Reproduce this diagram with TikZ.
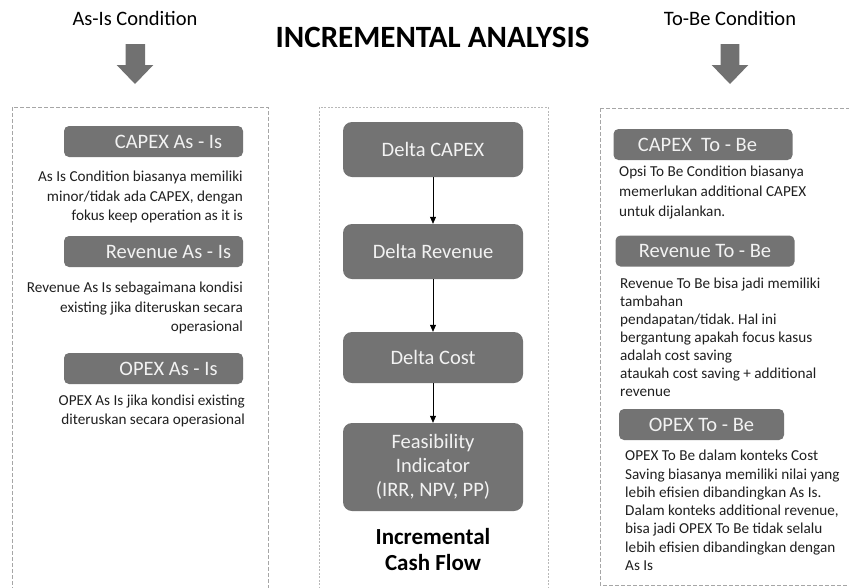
\documentclass[tikz,border=0pt]{standalone}
\usepackage{fontspec}
\setmainfont{Carlito}
\frenchspacing
\usetikzlibrary{arrows.meta}
\definecolor{boxgray}{HTML}{737373}
\definecolor{boxtext}{HTML}{F2F2F2}
\definecolor{dashgray}{HTML}{A6A6A6}
\definecolor{arrowgray}{HTML}{717171}
\definecolor{bodytext}{HTML}{1F1F1F}
\tikzset{
  hdr/.style={fill=boxgray, rounded corners=5pt, text=boxtext, font=\fontsize{20.5}{23}\selectfont,
    minimum width=179pt, minimum height=31pt, inner sep=0pt},
  flowbox/.style={fill=boxgray, rounded corners=9pt, text=boxtext, font=\fontsize{20.5}{24}\selectfont,
    minimum width=180pt, inner sep=0pt, align=center},
  desc/.style={inner sep=0pt, text=bodytext},
  frame/.style={draw=dashgray, line width=0.9pt, dash pattern=on 4pt off 2pt},
  framec/.style={draw=dashgray!80, line width=0.8pt, dash pattern=on 2pt off 1.5pt},
  flowarrow/.style={-{Triangle[length=7pt,width=6pt]}, line width=0.6pt, draw=black},
  bigarrow/.style={fill=arrowgray, draw=none},
}
\begin{document}
\begin{tikzpicture}[x=1pt,y=-1pt]
\useasboundingbox (0,0) rectangle (849,587);

% titles
\node[inner sep=0pt, font=\fontsize{20.5}{23}\selectfont] (asis) at (135,18) {As-Is Condition};
\node[inner sep=0pt, font=\fontsize{20.5}{23}\selectfont] (tobe) at (730,18) {To-Be Condition};
\node[inner sep=0pt, font=\bfseries\fontsize{31}{34}\selectfont] (title) at (432.5,37.5) {INCREMENTAL ANALYSIS};

% big arrows
\fill[bigarrow] (125.5,44) -- (145,44) -- (145,65) -- (153.3,65) -- (135,84) -- (116.7,65) -- (125.5,65) -- cycle;
\fill[bigarrow] (720.7,44) -- (739.3,44) -- (739.3,65) -- (748.3,65) -- (730,84) -- (711.7,65) -- (720.7,65) -- cycle;

% frames
\draw[frame] (12,107) rectangle (268,592);
\draw[framec] (319,107) rectangle (548,592);
\draw[frame] (600,108) -- (855,108);
\draw[frame] (600,108) -- (600,585) -- (855,585);

% left column
\node[hdr] (capexA) at (153.5,141.5) {\hspace*{30pt}CAPEX As - Is};
\node[desc, anchor=north east, align=right, font=\fontsize{15.2}{19.5}\selectfont] (capexAd) at (243,171) {As Is Condition biasanya memiliki\\minor/tidak ada CAPEX, dengan\\fokus keep operation as it is};
\node[hdr] (revA) at (153.5,251.5) {\hspace*{30pt}Revenue As - Is};
\node[desc, anchor=north east, align=right, font=\fontsize{15.2}{19.5}\selectfont] (revAd) at (243,282) {Revenue As Is sebagaimana kondisi\\existing jika diteruskan secara\\operasional};
\node[hdr] (opexA) at (153.5,368.5) {\hspace*{30pt}OPEX As - Is};
\node[desc, anchor=north east, align=right, font=\fontsize{15.2}{19}\selectfont] (opexAd) at (245,395) {OPEX As Is jika kondisi existing\\diteruskan secara operasional};

% center column
\node[flowbox, minimum height=55pt] (dcapex) at (433,149.5) {Delta CAPEX};
\node[flowbox, minimum height=55pt] (drev) at (433,251.5) {Delta Revenue};
\node[flowbox, minimum height=51pt] (dcost) at (433,357.5) {Delta Cost};
\node[flowbox, minimum height=88pt] (feas) at (433,467) {Feasibility\\Indicator\\(IRR, NPV, PP)};
\draw[flowarrow] (dcapex) -- (drev);
\draw[flowarrow] (drev) -- (dcost);
\draw[flowarrow] (dcost) -- (feas);
\node[inner sep=0pt, align=center, font=\bfseries\fontsize{23}{26}\selectfont] (icf) at (433,550) {Incremental\\Cash Flow};

% right column
\node[hdr] (capexB) at (703,144.5) {CAPEX\ \ To - Be\hspace*{11pt}};
\node[desc, anchor=north west, align=left, font=\fontsize{15.2}{20}\selectfont] (capexBd) at (619,166) {Opsi To Be Condition biasanya\\memerlukan additional CAPEX\\untuk dijalankan.};
\node[hdr] (revB) at (705,251) {Revenue To - Be};
\node[desc, anchor=north west, align=left, font=\fontsize{15.2}{18}\selectfont] (revBd) at (620,278) {Revenue To Be bisa jadi memiliki\\tambahan\\pendapatan/tidak. Hal ini\\bergantung apakah focus kasus\\adalah cost saving\\ataukah cost saving + additional\\revenue};
\node[hdr, minimum width=165pt] (opexB) at (701.5,424.5) {OPEX To - Be};
\node[desc, anchor=north west, align=left, font=\fontsize{15.2}{18.3}\selectfont] (opexBd) at (625,450) {OPEX To Be dalam konteks Cost\\Saving biasanya memiliki nilai yang\\lebih efisien dibandingkan As Is.\\Dalam konteks additional revenue,\\bisa jadi OPEX To Be tidak selalu\\lebih efisien dibandingkan dengan\\As Is};
\end{tikzpicture}
\end{document}
